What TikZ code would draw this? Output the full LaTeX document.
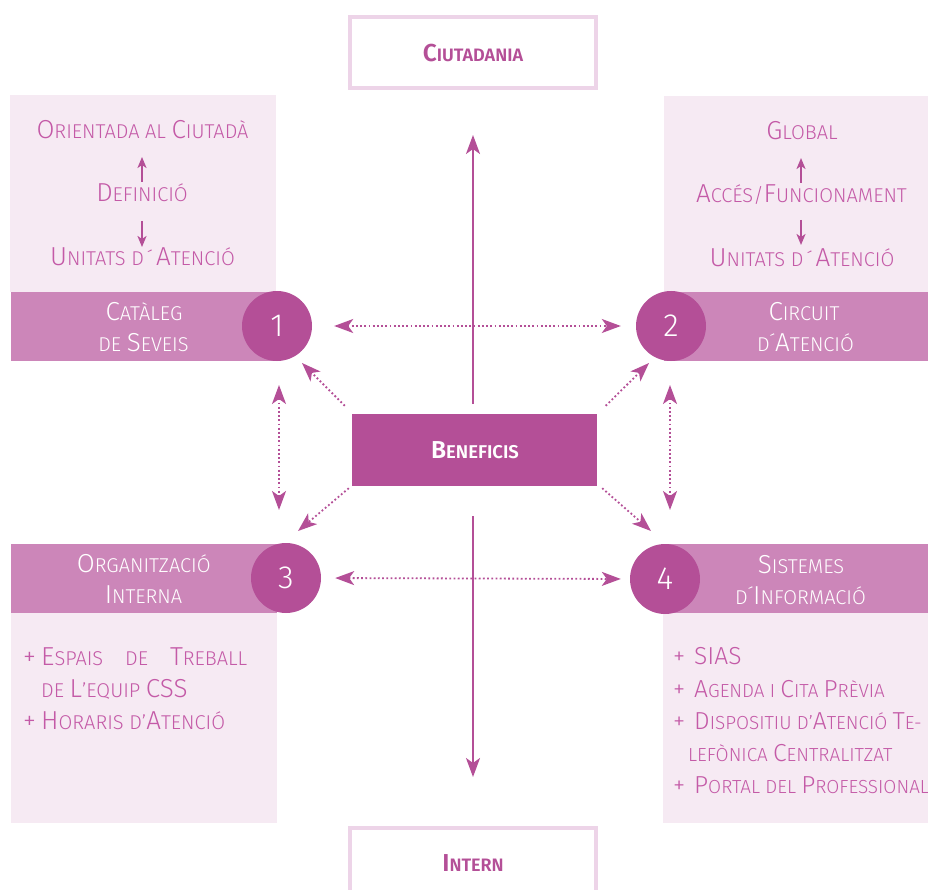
\documentclass[tikz,border=0pt]{standalone}
\usepackage{fontspec}
\setmainfont{Fira Sans}[UprightFont={* Light}, BoldFont={* SemiBold}]
\usetikzlibrary{arrows.meta}

\definecolor{plum}{HTML}{B44F97}
\definecolor{band}{HTML}{CC86B9}
\definecolor{pale}{HTML}{F6EAF3}
\definecolor{frame}{HTML}{EDD4E8}
\definecolor{ink}{HTML}{C45AA7}

% small-caps imitation: running text is set small, initials large
\newcommand\K[1]{{\fontsize{26}{26}\selectfont #1}}
\newcommand\KS[1]{{\fontsize{24.6}{24}\selectfont #1}}
\newcommand\KB[1]{{\fontsize{24.5}{24}\selectfont #1}}
\newcommand\plusL{\makebox[18pt][l]{\K{+}}}
\newcommand\plusR{\makebox[21pt][l]{\KS{+}}}

\tikzset{
  palebox/.style={fill=pale, draw=none, inner sep=0, anchor=north west},
  bandbox/.style={fill=band, draw=none, inner sep=0, anchor=north west},
  numdot/.style={circle, fill=plum, minimum size=70, inner sep=0, text=white,
                 font=\fontsize{32}{32}\selectfont},
  framebox/.style={draw=frame, line width=4, fill=white, inner sep=0,
                   minimum width=246, text=plum},
  boxtxt/.style={text=ink, inner sep=0, font=\fontsize{20}{22}\selectfont},
  listtxt/.style={text=ink, inner sep=0, anchor=base west, font=\fontsize{18.9}{22}\selectfont},
  bandtxt/.style={text=white, inner sep=0, anchor=base, font=\fontsize{20}{22}\selectfont},
  bigarrow/.style={plum, line width=2, -{Stealth[length=19pt, width=14pt, inset=5pt]}},
  smallarrow/.style={plum, line width=2, -{Stealth[length=11pt, width=9pt, inset=3pt]}},
  dotarrow/.style={plum, line width=1.8, dash pattern=on 1.8pt off 2.4pt,
                   {Stealth[length=19pt, width=14pt, inset=5pt]}-{Stealth[length=19pt, width=14pt, inset=5pt]}},
  dotone/.style={plum, line width=1.8, dash pattern=on 1.8pt off 2.4pt,
                 -{Stealth[length=19pt, width=14pt, inset=5pt]}},
}

\begin{document}
\begin{tikzpicture}[x=1pt, y=-1pt]
\useasboundingbox (0,0) rectangle (928,890);
\clip (0,0) rectangle (928,890);

% outer targets
\node[framebox, minimum height=71] (ciut) at (473,52.5) {};
\node[text=plum, inner sep=0, anchor=base, font=\bfseries\fontsize{18}{18}\selectfont] (ciuttxt)
  at (473,62) {\KB{C}IUTADANIA};
\node[framebox, minimum height=90, anchor=north] (intern) at (473,826) {};
\node[text=plum, inner sep=0, anchor=base, font=\bfseries\fontsize{18}{18}\selectfont] (interntxt)
  at (473,871) {\KB{I}NTERN};

% quadrant panels
\node[palebox, minimum width=266, minimum height=197] (p1) at (10,95) {};
\node[palebox, minimum width=264, minimum height=196] (p2) at (664,96) {};
\node[palebox, minimum width=266, minimum height=211] (p3) at (11,612) {};
\node[palebox, minimum width=265, minimum height=210] (p4) at (663,613) {};

\node[bandbox, minimum width=266, minimum height=69] (b1) at (11,292) {};
\node[bandbox, minimum width=264, minimum height=69] (b2) at (664,292) {};
\node[bandbox, minimum width=266, minimum height=69] (b3) at (11,544) {};
\node[bandbox, minimum width=264, minimum height=69] (b4) at (664,544) {};

\node[numdot] (c1) at (277,326) {1};
\node[numdot] (c2) at (671,326) {2};
\node[numdot] (c3) at (286,578) {3};
\node[numdot] (c4) at (665,579) {4};

% centre
\node[fill=plum, minimum width=245, minimum height=72, inner sep=0] (benef) at (474.5,450) {};
\node[text=white, inner sep=0, anchor=base, font=\bfseries\fontsize{18.5}{18}\selectfont] (beneftxt)
  at (475,458) {\KB{B}ENEFICIS};

% panel 1 text
\node[boxtxt, anchor=base] (t1a) at (142.5,139) {\K{O}RIENTADA AL \K{C}IUTADÀ};
\node[boxtxt, anchor=base] (t1b) at (142,202) {\K{D}EFINICIÓ};
\node[boxtxt, anchor=base] (t1c) at (142.5,266) {\K{U}NITATS D\,´\,\K{A}TENCIÓ};
\node[bandtxt] (l1a) at (144,320) {\K{C}ATÀLEG};
\node[bandtxt] (l1b) at (143.5,351) {DE \K{S}EVEIS};

% panel 2 text
\node[boxtxt, anchor=base] (t2a) at (802,140) {\K{G}LOBAL};
\node[boxtxt, anchor=base] (t2b) at (801.5,203) {\K{A}CCÉS/\K{F}UNCIONAMENT};
\node[boxtxt, anchor=base] (t2c) at (802,267) {\K{U}NITATS D\,´\,\K{A}TENCIÓ};
\node[bandtxt] (l2a) at (804,320) {\K{C}IRCUIT};
\node[bandtxt] (l2b) at (805.5,351) {D´\K{A}TENCIÓ};

% panel 3 text
\node[bandtxt] (l3a) at (143.7,572) {\K{O}RGANITZACIÓ};
\node[bandtxt] (l3b) at (143.5,603) {\K{I}NTERNA};
\node[boxtxt, anchor=base west] (t3a) at (23,665)
  {\plusL\makebox[206pt]{\K{E}SPAIS\hfill DE\hfill \K{T}REBALL}};
\node[boxtxt, anchor=base west] (t3b) at (41,697) {DE \K{L}’EQUIP \K{CSS}};
\node[boxtxt, anchor=base west] (t3c) at (23,729) {\plusL\K{H}ORARIS D’\K{A}TENCIÓ};

% panel 4 text
\node[bandtxt] (l4a) at (801,573) {\K{S}ISTEMES};
\node[bandtxt] (l4b) at (800.5,604) {D´\K{I}NFORMACIÓ};
\node[listtxt] (t4a) at (673,664) {\plusR\KS{SIAS}};
\node[listtxt] (t4b) at (673,697) {\plusR\KS{A}GENDA I \KS{C}ITA \KS{P}RÈVIA};
\node[listtxt] (t4c) at (673,729) {\plusR\KS{D}ISPOSITIU D’\KS{A}TENCIÓ \KS{T}E-};
\node[listtxt] (t4d) at (688,761) {LEFÒNICA \KS{C}ENTRALITZAT};
\node[listtxt] (t4e) at (673,793) {\plusR\KS{P}ORTAL DEL \KS{P}ROFESSIONAL};

% arrow end points
\coordinate (upFrom) at (473,404);
\coordinate (upTo) at (473,135);
\coordinate (downFrom) at (473,516);
\coordinate (downTo) at (473,777);

\coordinate (a1u) at (142,182); \coordinate (a1ut) at (142,157);
\coordinate (a1d) at (142,221); \coordinate (a1dt) at (142,247);
\coordinate (a2u) at (801,183); \coordinate (a2ut) at (801,158);
\coordinate (a2d) at (801,220); \coordinate (a2dt) at (801,245);

\coordinate (vL1) at (279,385); \coordinate (vL2) at (279,510);
\coordinate (vR1) at (670,385); \coordinate (vR2) at (670,510);

\coordinate (dTL) at (302,363);
\coordinate (dTR) at (649,363);
\coordinate (dBL) at (298,531);
\coordinate (dBR) at (651,531);

% main axis
\draw[bigarrow] (upFrom) -- (upTo);
\draw[bigarrow] (downFrom) -- (downTo);

% panel arrows
\draw[smallarrow] (a1u) -- (a1ut);
\draw[smallarrow] (a1d) -- (a1dt);
\draw[smallarrow] (a2u) -- (a2ut);
\draw[smallarrow] (a2d) -- (a2dt);

% links between the four areas
\draw[dotarrow, shorten <=22, shorten >=15] (c1.east) -- (c2.west);
\draw[dotarrow, shorten <=14, shorten >=9] (c3.east) -- (c4.west);
\draw[dotarrow] (vL1) -- (vL2);
\draw[dotarrow] (vR1) -- (vR2);

% from the centre to each area
\draw[dotone] ([shift={(-7,-8)}]benef.north west) -- (dTL);
\draw[dotone] ([shift={(8.5,-8)}]benef.north east) -- (dTR);
\draw[dotone] ([shift={(-3,2)}]benef.south west) -- (dBL);
\draw[dotone] ([shift={(5,2)}]benef.south east) -- (dBR);
\end{tikzpicture}
\end{document}
